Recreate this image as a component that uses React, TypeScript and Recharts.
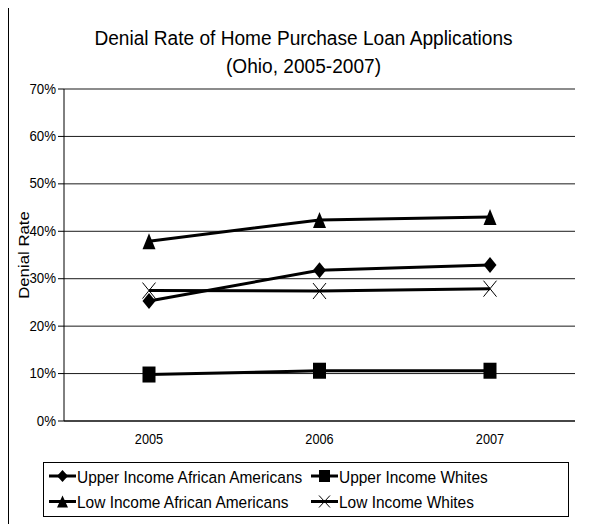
import React from 'react';
import { LineChart, Line, XAxis, YAxis, CartesianGrid, Legend } from 'recharts';

const years = ['2005', '2006', '2007'];
const upperAA = [25.3, 31.8, 32.9];
const upperWhites = [9.8, 10.6, 10.6];
const lowAA = [37.9, 42.4, 43.0];
const lowWhites = [27.5, 27.4, 27.9];
const yTicks = [0, 10, 20, 30, 40, 50, 60, 70];
const titleLines = ['Denial Rate of Home Purchase Loan Applications', '(Ohio, 2005-2007)'];
const yAxisTitle = 'Denial Rate';

const seriesDefs = [
  { key: 'upperAA', name: 'Upper Income African Americans', shape: 'diamond' },
  { key: 'upperWhites', name: 'Upper Income Whites', shape: 'square' },
  { key: 'lowAA', name: 'Low Income African Americans', shape: 'triangle' },
  { key: 'lowWhites', name: 'Low Income Whites', shape: 'x' },
];

const data = years.map((y, i) => ({
  year: y,
  upperAA: upperAA[i],
  upperWhites: upperWhites[i],
  lowAA: lowAA[i],
  lowWhites: lowWhites[i],
}));

const FONT = '"Liberation Sans", Arial, Helvetica, sans-serif';
const SQ = 0.91;

function Marker({ shape, cx, cy, w, h }: { shape: string; cx: number; cy: number; w: number; h: number }) {
  const hw = w / 2;
  const hh = h / 2;
  if (shape === 'diamond') {
    return <polygon points={`${cx},${cy - hh} ${cx + hw},${cy} ${cx},${cy + hh} ${cx - hw},${cy}`} fill="#000" />;
  }
  if (shape === 'square') {
    return <rect x={cx - hw} y={cy - hh} width={w} height={h} fill="#000" />;
  }
  if (shape === 'triangle') {
    return <polygon points={`${cx},${cy - hh} ${cx + hw},${cy + hh} ${cx - hw},${cy + hh}`} fill="#000" />;
  }
  return (
    <g stroke="#000" strokeWidth={1}>
      <line x1={cx - hw} y1={cy - hh} x2={cx + hw} y2={cy + hh} />
      <line x1={cx - hw} y1={cy + hh} x2={cx + hw} y2={cy - hh} />
    </g>
  );
}

const makeDot = (shape: string) => (p: any) => {
  if (p.cx == null || p.cy == null) return <g key={`d-${shape}-${p.index}`} />;
  return (
    <g key={`d-${shape}-${p.index}`}>
      <Marker shape={shape} cx={p.cx} cy={p.cy} w={13} h={16} />
    </g>
  );
};

const XTick = (p: any) => (
  <text
    transform={`translate(${p.x},${p.y + 10}) scale(${SQ},1)`}
    textAnchor="middle"
    fontSize={14}
    fontFamily={FONT}
    fill="#000"
  >
    {p.payload.value}
  </text>
);

const YTick = (p: any) => (
  <text
    transform={`translate(${p.x},${p.y}) scale(0.95,1)`}
    textAnchor="end"
    dominantBaseline="central"
    fontSize={14}
    fontFamily={FONT}
    fill="#000"
  >
    {`${p.payload.value}%`}
  </text>
);

const YLabel = (props: any) => {
  const vb = props.viewBox || { x: 0, y: 0, width: 0, height: 0 };
  const x = vb.x + 14;
  const y = vb.y + vb.height / 2;
  return (
    <text
      transform={`translate(${x},${y}) rotate(-90) scale(1,${SQ})`}
      textAnchor="middle"
      dominantBaseline="central"
      fontSize={16.8}
      fontFamily={FONT}
      fill="#000"
    >
      {yAxisTitle}
    </text>
  );
};

const LegendContent = () => {
  const cols = [6, 268];
  const rows = [{ c: 14, b: 20.5 }, { c: 39.5, b: 46 }];
  return (
    <svg width={527} height={56} style={{ display: 'block' }}>
      <rect x={0.5} y={0.5} width={525} height={54} fill="#fff" stroke="#000" strokeWidth={1} />
      {seriesDefs.map((s, i) => {
        const col = cols[i % 2];
        const row = rows[Math.floor(i / 2)];
        const mx = col + 13.5;
        return (
          <g key={s.key}>
            <line x1={col} y1={row.c} x2={col + 27} y2={row.c} stroke="#000" strokeWidth={3} />
            <Marker shape={s.shape} cx={mx} cy={row.c} w={11} h={12} />
            <text
              transform={`translate(${col + 28},${row.b}) scale(${SQ},1)`}
              fontSize={17}
              fontFamily={FONT}
              fill="#000"
            >
              {s.name}
            </text>
          </g>
        );
      })}
    </svg>
  );
};

export default function App() {
  return (
    <div
      style={{
        position: 'relative',
        marginTop: -4,
        width: 580,
        height: 519,
        borderLeft: '1px solid #000',
        borderTop: '1px solid #000',
        fontFamily: FONT,
        background: '#fff',
      }}
    >
      <LineChart
        width={580}
        height={519}
        data={data}
        margin={{ top: 84, right: 14, left: 0, bottom: 73 }}
      >
        <CartesianGrid horizontal vertical={false} stroke="#000" strokeOpacity={0.9} />
        <XAxis
          dataKey="year"
          height={30}
          padding={{ left: 85, right: 85 }}
          tickLine={false}
          tickSize={6}
          tickMargin={7}
          axisLine={{ stroke: '#000' }}
          tick={<XTick />}
        />
        <YAxis
          domain={[0, 70]}
          ticks={yTicks}
          width={55}
          interval={0}
          tickSize={6}
          tickMargin={2}
          tickLine={{ stroke: '#000' }}
          axisLine={{ stroke: '#000' }}
          tick={<YTick />}
          label={<YLabel />}
        />
        <YAxis
          yAxisId="right"
          orientation="right"
          domain={[0, 70]}
          width={0}
          tick={false}
          tickLine={false}
          axisLine={{ stroke: '#808080' }}
        />
        <Legend
          layout="horizontal"
          verticalAlign="middle"
          align="center"
          content={<LegendContent />}
          wrapperStyle={{ position: 'absolute', left: 34, top: 457, width: 527, height: 56 }}
        />
        {seriesDefs.map((s) => (
          <Line
            key={s.key}
            type="linear"
            dataKey={s.key}
            name={s.name}
            stroke="#000"
            strokeWidth={3}
            dot={makeDot(s.shape)}
            activeDot={false}
            isAnimationActive={false}
          />
        ))}
      </LineChart>
      <svg
        width={579}
        height={90}
        style={{ position: 'absolute', left: 0, top: 0, pointerEvents: 'none' }}
      >
        {titleLines.map((t, i) => (
          <text
            key={i}
            transform={`translate(294.5,${i === 0 ? 40 : 68}) scale(${SQ},1)`}
            textAnchor="middle"
            fontSize={21}
            fontFamily={FONT}
            fill="#000"
          >
            {t}
          </text>
        ))}
      </svg>
    </div>
  );
}
